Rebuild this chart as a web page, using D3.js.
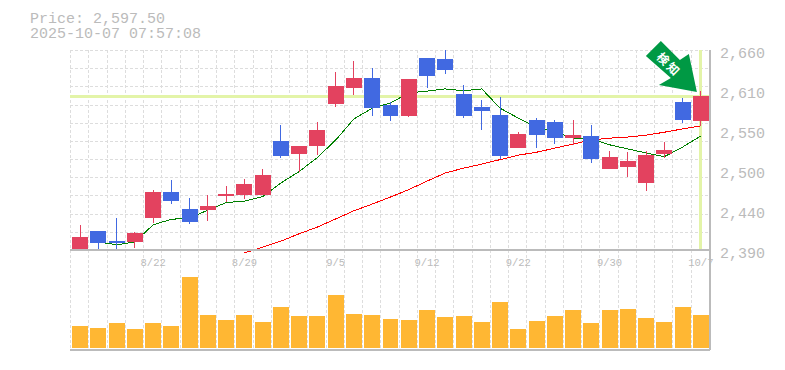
<!DOCTYPE html>
<html>
<head>
<meta charset="utf-8">
<script src="https://cdn.jsdelivr.net/npm/d3@7"></script>
<style>
  html, body { margin: 0; padding: 0; background: #fff; }
  svg { display: block; }
  text { font-family: "Liberation Mono", monospace; fill: #bbb; }
</style>
</head>
<body>
<svg id="chart"></svg>
<script>
// trading days, 8/18 -> 10/7
const dates = ['8/18','8/19','8/20','8/21','8/22','8/25','8/26','8/27','8/28','8/29','9/1','9/2','9/3','9/4','9/5',
  '9/8','9/9','9/10','9/11','9/12','9/16','9/17','9/18','9/19','9/22','9/24','9/25','9/26','9/29','9/30',
  '10/1','10/2','10/3','10/6','10/7']
const open = [2390,2415.5,2402,2401,2433,2468,2445.5,2444,2463,2464,2464,2537,2519.5,2530.5,2587,2608.5,2622,2586,2571,2649,2648,2600.5,2583,2572,2527.5,2565.5,2563,2541,2544,2499.5,2502,2480.5,2519.5,2590,2564]
const high = [2424,2415.5,2433,2414,2471,2484.5,2460,2464,2476.5,2486,2499.5,2559,2530.5,2563,2630,2645,2635.5,2590,2621,2649,2660,2613,2592.5,2596.5,2549,2568,2565.5,2565.5,2559,2523.5,2522,2523.5,2536,2595,2604.5]
const low = [2390,2390,2390,2392.5,2426.5,2452,2425,2429,2455,2459,2464,2514,2495,2518,2583,2599,2571,2564,2569.5,2609,2627.5,2568,2552,2513,2527.5,2527.5,2533,2532,2507.5,2499.5,2488.5,2470,2514,2561.5,2557.5]
const close = [2407.5,2399.5,2399.5,2413,2468,2456,2428,2449.5,2465.5,2479,2491,2517,2530.5,2552,2611.5,2622,2581.5,2571,2621,2625,2633,2571,2577.5,2517,2546.5,2545,2541,2545,2513,2515.5,2510,2518,2525,2565.5,2597.5]
const volume = [22,20,25,19,25,22,71,33,28,33,26,41,32,32,53,34,33,29,28,38,31,32,26,46,19,27,32,38,25,38,39,30,26,41,33]
const maShort = [null,2401,2397,2401,2424,2431.5,2433,2444,2454,2456,2462,2480.5,2496,2515,2538.5,2567,2581.5,2588.5,2602,2604.5,2607.5,2605,2607.5,2581.5,2568,2556,2549.5,2541,2540,2532,2526.5,2521,2516,2529,2544]
const maLong = [null,null,null,null,null,null,null,null,null,2386,2394,2402,2412,2421,2432,2443,2452,2461.5,2471.5,2483,2494,2500.5,2506,2512,2518,2522,2527.5,2533,2538.5,2541,2542.5,2545,2549,2553.5,2557.5]

const priceTicks = [2660,2606,2552,2498,2444,2390]
const dateTicks = ['8/22','8/29','9/5','9/12','9/22','9/30','10/7']
const lastPrice = '2,597.50'
const timestamp = '2025-10-07 07:57:08'

const width = 785, height = 370
const left = 70, right = 710, priceTop = 50, priceBottom = 250, volTop = 250, volBottom = 350

const svg = d3.select('#chart').attr('width', width).attr('height', height)

const x = d3.scaleBand().domain(dates).range([left + 1, right]).paddingInner(0.125).paddingOuter(0.0625)
const xMid = d => x(d) + x.bandwidth() / 2
const y = d3.scaleLinear().domain([2390, 2660]).range([priceBottom, priceTop])
const yVol = d3.scaleLinear().domain([0, 100]).range([volBottom - 2, volTop - 2])

// header
svg.append('text').attr('x', 30).attr('y', 23).attr('font-size', 15).text(`Price: ${lastPrice}`)
svg.append('text').attr('x', 30).attr('y', 38).attr('font-size', 15).text(timestamp)

// grid
const grid = svg.append('g').attr('stroke', '#ddd').attr('stroke-dasharray', '3,2').attr('shape-rendering', 'crispEdges')
grid.selectAll('.vgrid').data(dates).enter().append('line')
    .attr('class', 'vgrid')
    .attr('x1', (d, i) => Math.round(x.step() * i + left)).attr('x2', (d, i) => Math.round(x.step() * i + left))
    .attr('y1', priceTop).attr('y2', volBottom)
grid.selectAll('.hgrid').data(d3.range(0, 11)).enter().append('line')
    .attr('class', 'hgrid')
    .attr('x1', left).attr('x2', right)
    .attr('y1', i => Math.round(priceTop + i * (priceBottom - priceTop) / 11)).attr('y2', i => Math.round(priceTop + i * (priceBottom - priceTop) / 11))

// current price crosshair
const cross = svg.append('g').attr('stroke', '#e3f4a8').attr('stroke-width', 3).attr('shape-rendering', 'crispEdges')
cross.append('line').attr('x1', left).attr('x2', right).attr('y1', y(2597.5)).attr('y2', y(2597.5))
cross.append('line').attr('x1', xMid('10/7')).attr('x2', xMid('10/7')).attr('y1', priceTop).attr('y2', priceBottom)

// moving averages
const line = d3.line().defined(d => d !== null).x((d, i) => xMid(dates[i])).y(d => y(d))
svg.append('path').attr('d', line(maShort)).attr('fill', 'none').attr('stroke', '#008000').attr('stroke-width', 1).attr('shape-rendering', 'crispEdges')
svg.append('path').attr('d', line(maLong)).attr('fill', 'none').attr('stroke', '#ff0000').attr('stroke-width', 1).attr('shape-rendering', 'crispEdges')

// candles, clipped at the price axis
svg.append('clipPath').attr('id', 'priceClip').append('rect')
    .attr('x', left).attr('y', priceTop).attr('width', right - left).attr('height', priceBottom - priceTop)
const candleColor = i => close[i] >= open[i] ? '#e3425f' : '#4169e1'
const candles = svg.append('g').attr('clip-path', 'url(#priceClip)').attr('shape-rendering', 'crispEdges')
candles.selectAll('.wick').data(dates).enter().append('line')
    .attr('class', 'wick')
    .attr('x1', d => xMid(d)).attr('x2', d => xMid(d))
    .attr('y1', (d, i) => y(high[i])).attr('y2', (d, i) => y(low[i]))
    .attr('stroke', (d, i) => candleColor(i))
    .attr('stroke-width', 1)
candles.selectAll('.body').data(dates).enter().append('rect')
    .attr('class', 'body')
    .attr('x', d => x(d))
    .attr('width', x.bandwidth())
    .attr('y', (d, i) => y(Math.max(open[i], close[i])))
    .attr('height', (d, i) => Math.abs(y(open[i]) - y(close[i])))
    .attr('fill', (d, i) => candleColor(i))

// volume bars
svg.selectAll('.vol').data(dates).enter().append('rect')
    .attr('class', 'vol')
    .attr('x', d => x(d))
    .attr('width', x.bandwidth())
    .attr('y', (d, i) => yVol(volume[i]))
    .attr('height', (d, i) => yVol(0) - yVol(volume[i]))
    .attr('fill', '#ffb733')
    .attr('shape-rendering', 'crispEdges')

// frame
const frame = svg.append('g').attr('stroke', '#bbb').attr('stroke-width', 1.5).attr('shape-rendering', 'crispEdges')
frame.append('line').attr('x1', left).attr('x2', right).attr('y1', priceBottom).attr('y2', priceBottom)
frame.append('line').attr('x1', left).attr('x2', right).attr('y1', volBottom).attr('y2', volBottom)
frame.append('line').attr('x1', right).attr('x2', right).attr('y1', priceTop).attr('y2', volBottom)

// axis labels
svg.selectAll('.ptick').data(priceTicks).enter().append('text')
    .attr('class', 'ptick')
    .attr('x', 720)
    .attr('y', d => y(d) + 8)
    .attr('font-size', 15)
    .text(d => d3.format(',')(Math.round(d / 10) * 10))
svg.selectAll('.dtick').data(dateTicks).enter().append('text')
    .attr('class', 'dtick')
    .attr('x', d => xMid(d))
    .attr('y', priceBottom + 16)
    .attr('font-size', 10.5)
    .attr('text-anchor', 'middle')
    .text(d => d)

// detection arrow, placed relative to the last candle
const ax = xMid('10/7'), ay = y(high[high.length - 1])
const arrow = svg.append('g').attr('transform', `translate(${ax},${ay})`)
arrow.append('path')
    .attr('d', 'M-40,-50 L-55,-35 L-30,-13 L-42,-6 L-4,1 L-12,-37 L-21,-31 Z')
    .attr('fill', '#009944')
arrow.append('g').attr('transform', 'translate(-33,-27) rotate(45)')
  .selectAll('text').data(['検','知']).enter().append('text')
    .attr('x', (d, i) => i * 14 - 7)
    .attr('y', 4)
    .attr('text-anchor', 'middle')
    .attr('font-size', 12)
    .attr('font-weight', 'bold')
    .style('font-family', '"Noto Sans CJK JP"')
    .style('fill', '#fff')
    .text(d => d)
</script>
</body>
</html>
